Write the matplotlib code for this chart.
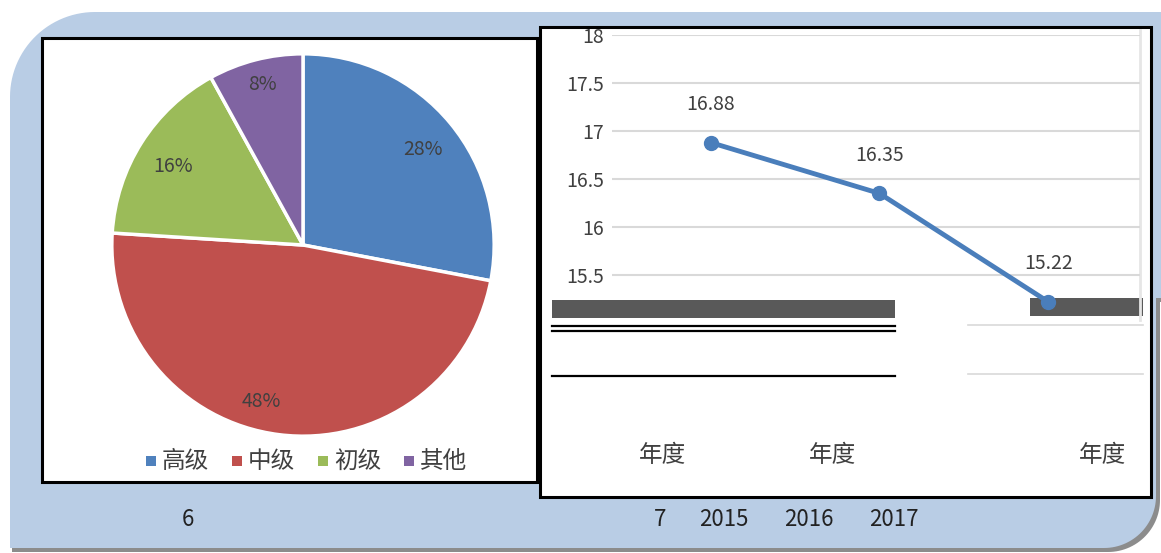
import matplotlib
matplotlib.use("Agg")
import numpy as np
import matplotlib.pyplot as plt
from matplotlib.patches import Rectangle, Polygon

plt.rcParams['font.family'] = ['Noto Sans CJK SC', 'DejaVu Sans']

# ---- data ----
pie_labels = ["高级", "中级", "初级", "其他"]
pie_values = [28, 48, 16, 8]
pie_colors = ["#4f81bd", "#c0504d", "#9bbb59", "#8064a2"]

years = ["2015", "2016", "2017"]
cat_label = "年度"
line_values = [16.88, 16.35, 15.22]
y_ticks = [15.5, 16, 16.5, 17, 17.5, 18]
fig_numbers = ["6", "7"]

W, H = 1161, 553
fig = plt.figure(figsize=(W / 100, H / 100), dpi=100)


def px_axes(x, y, w, h, **kw):
    return fig.add_axes([x / W, 1 - (y + h) / H, w / W, h / H], **kw)


def panel_outline(left, top, right, bottom, r_tl, r_br, ext_right):
    pts = []
    # top-left arc
    for a in np.linspace(180, 270, 30):
        t = np.radians(a)
        pts.append((left + r_tl + r_tl * np.cos(t), top + r_tl + r_tl * np.sin(t)))
    pts.append((ext_right, top))
    pts.append((ext_right, bottom - 250))
    pts.append((right, bottom - 250))
    # bottom-right arc
    for a in np.linspace(0, 90, 30):
        t = np.radians(a)
        pts.append((right - r_br + r_br * np.cos(t), bottom - r_br + r_br * np.sin(t)))
    pts.append((left, bottom))
    return pts


# ---- background panel ----
bg = px_axes(0, 0, W, H, zorder=0)
bg.set_xlim(0, W)
bg.set_ylim(H, 0)
bg.axis("off")
bg.add_patch(Polygon(panel_outline(12, 16, 1160, 552, 85, 52, 1170), closed=True,
                     fc="#8c8c8c", ec="none"))
bg.add_patch(Polygon(panel_outline(10, 12, 1156, 548, 85, 52, 1170), closed=True,
                     fc="#b9cde5", ec="none"))
# white boxes
bg.add_patch(Rectangle((42, 38), 495, 444, fc="white", ec="black", lw=2.2))
bg.add_patch(Rectangle((540, 27), 611, 470, fc="white", ec="black", lw=2.2))
bg.plot([1140, 1140], [30, 320], color="#e6e6e6", lw=2)

# scan artefacts below the line chart
bg.add_patch(Rectangle((552, 300), 343, 18, fc="#595959", ec="none"))
bg.add_patch(Rectangle((1030, 298), 113, 18, fc="#595959", ec="none"))
for yy in (326, 331, 376):
    bg.plot([552, 895], [yy, yy], color="black", lw=1.6)
for yy in (325, 374):
    bg.plot([968, 1143], [yy, yy], color="#d9d9d9", lw=1.2)

# ---- pie chart ----
pax = px_axes(108, 50, 390, 390, zorder=1)
wedges, _ = pax.pie(pie_values, colors=pie_colors, startangle=90, counterclock=False,
                    radius=1.0, wedgeprops=dict(edgecolor="white", linewidth=2.5))
pax.set_xlim(-1.02, 1.02)
pax.set_ylim(-1.02, 1.02)
pax.set_aspect("equal")
label_pos = [(0.63, 0.50), (-0.22, -0.82), (-0.68, 0.41), (-0.21, 0.84)]
for (lx, ly), v in zip(label_pos, pie_values):
    pax.text(lx, ly, f"{v}%", ha="center", va="center", fontsize=14, color="#404040")

# legend
leg_x = 146
for lab, col in zip(pie_labels, pie_colors):
    bg.add_patch(Rectangle((leg_x, 456), 10, 10, fc=col, ec="none"))
    bg.text(leg_x + 16, 461, lab, fontsize=17, color="#404040", va="center", ha="left")
    leg_x += 86

# ---- line chart ----
lax = px_axes(612, 35, 528, 288, zorder=2)
lax.patch.set_alpha(0)
xs = list(range(len(line_values)))
lax.plot(xs, line_values, color="#4a7ebb", lw=3.5, marker="o", markersize=10, zorder=3)
for x, v in zip(xs, line_values):
    lax.annotate(f"{v:.2f}", (x, v), xytext=(0, 20), textcoords="offset points",
                 ha="center", va="bottom", fontsize=14, color="#404040")
lax.set_xlim(-0.584, 2.543)
lax.set_ylim(15.0, 18.0)
lax.set_yticks(y_ticks)
lax.set_yticklabels([f"{t:g}" for t in y_ticks], fontsize=14, color="#404040")
lax.set_xticks([])
lax.yaxis.grid(True, color="#d9d9d9", lw=1.5)
lax.set_axisbelow(True)
lax.tick_params(axis="y", length=0, pad=6)
for s in lax.spines.values():
    s.set_visible(False)

# category labels (year part lost in the source, shown below)
for xpx in (662, 832, 1102):
    bg.text(xpx, 455, cat_label, fontsize=17, color="#404040", ha="center", va="center")

# captions below the boxes
bg.text(188, 520, fig_numbers[0], fontsize=16, color="#222222", ha="center", va="center")
bg.text(660, 520, fig_numbers[1], fontsize=16, color="#222222", ha="center", va="center")
for xpx, yr in zip((724, 809, 894), years):
    bg.text(xpx, 520, yr, fontsize=16, color="#222222", ha="center", va="center")

fig.savefig("out.png", dpi=100)
